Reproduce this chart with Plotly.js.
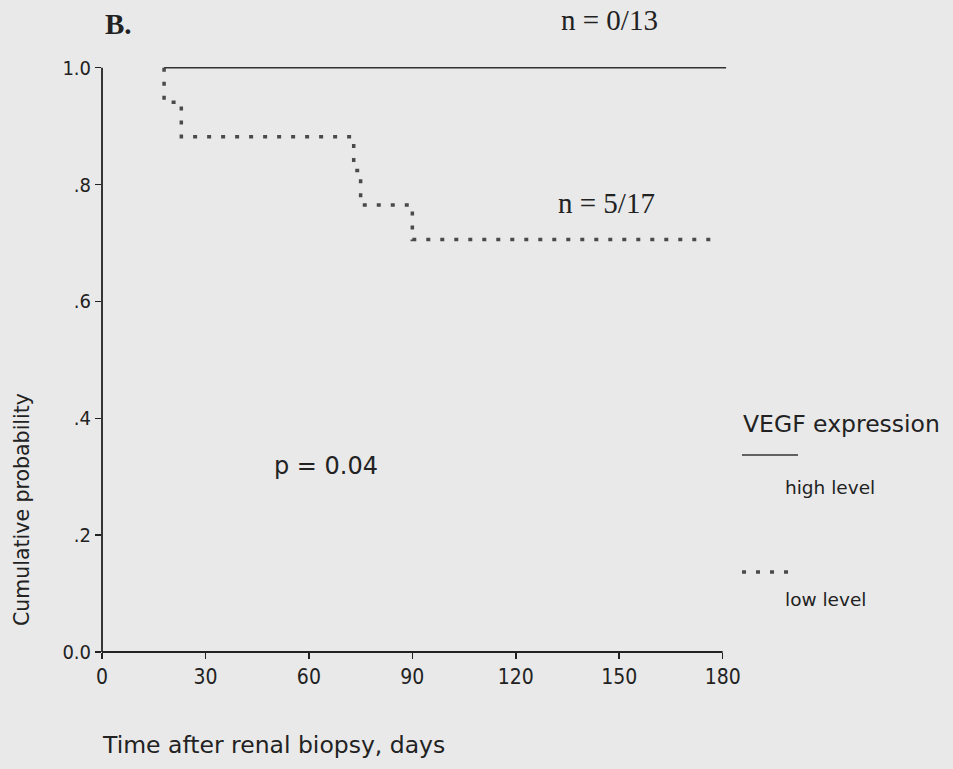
<!DOCTYPE html>
<html>
<head>
<meta charset="utf-8">
<script src="https://cdn.plot.ly/plotly-3.0.1.min.js"></script>
<style>
html,body{margin:0;padding:0;background:#e9e9e9;}
#chart{width:953px;height:769px;}
</style>
</head>
<body>
<div id="chart"></div>
<script>
// High VEGF expression group (no events)
var highDays = [18, 181];
var highSurv = [1.0, 1.0];
// Low VEGF expression group (Kaplan-Meier steps)
var lowDays = [18, 18, 23, 73, 75, 90, 178];
var lowSurv = [1.0, 0.941, 0.882, 0.824, 0.765, 0.706, 0.706];

var xTickVals = [0, 30, 60, 90, 120, 150, 180];
var xTickText = ["0", "30", "60", "90", "120", "150", "180"];
var yTickVals = [0, 0.2, 0.4, 0.6, 0.8, 1.0];
var yTickText = ["0.0", ".2", ".4", ".6", ".8", "1.0"];

var panelLabel = "B.";
var highCount = "n = 0/13";
var lowCount = "n = 5/17";
var pValue = "p = 0.04";
var legendTitle = "VEGF expression";
var legendNames = ["high level", "low level"];
var xTitle = "Time after renal biopsy, days";
var yTitle = "Cumulative probability";

var sans = "DejaVu Sans, Verdana, sans-serif";
var narrow = "Liberation Sans Narrow, DejaVu Sans Condensed, Arial Narrow, sans-serif";
var serif = "Liberation Serif, Times New Roman, serif";
var ink = "#222";

var traces = [
  {x: highDays, y: highSurv, mode: "lines", line: {color: "#333", width: 1.6, shape: "hv"}, showlegend: false, hoverinfo: "skip"},
  {x: lowDays, y: lowSurv, mode: "lines", line: {color: "#4a4a4a", width: 3.5, shape: "hv", dash: "4px,10px"}, showlegend: false, hoverinfo: "skip"}
];

function note(text, x, y, size, family, extra) {
  var a = {text: text, x: x, y: y, xref: "paper", yref: "paper", showarrow: false,
           xanchor: "center", yanchor: "middle",
           font: {family: family, size: size, color: ink}};
  for (var k in (extra || {})) a[k] = extra[k];
  return a;
}

var layout = {
  width: 953, height: 769,
  margin: {l: 102, r: 220, t: 56, b: 117, pad: 0},
  paper_bgcolor: "#e9e9e9",
  plot_bgcolor: "rgba(0,0,0,0)",
  showlegend: false,
  xaxis: {
    range: [0, 183], tickvals: xTickVals, ticktext: xTickText,
    ticks: "outside", ticklen: 6, tickwidth: 1.5, tickcolor: ink,
    showline: false, zeroline: false, showgrid: false,
    tickfont: {family: narrow, size: 21, color: ink}
  },
  yaxis: {
    range: [0, 1.02], tickvals: yTickVals, ticktext: yTickText,
    ticks: "outside", ticklen: 6, tickwidth: 1.5, tickcolor: ink,
    showline: false, zeroline: false, showgrid: false,
    tickfont: {family: narrow, size: 20, color: ink}
  },
  shapes: [
    {type: "line", xref: "paper", yref: "y", x0: 0, x1: 0, y0: 0, y1: 1.0, line: {color: ink, width: 1.8}},
    {type: "line", xref: "x", yref: "paper", x0: 0, x1: 180, y0: 0, y1: 0, line: {color: ink, width: 1.8}},
    {type: "line", xref: "paper", yref: "paper", x0: 1.0143, x1: 1.103, y0: 0.3305, y1: 0.3305, line: {color: "#333", width: 1.6}},
    {type: "line", xref: "paper", yref: "paper", x0: 1.0143, x1: 1.089, y0: 0.1342, y1: 0.1342, line: {color: "#4a4a4a", width: 3.5, dash: "4px,10px"}}
  ],
  annotations: [
    note("<b>" + panelLabel + "</b>", 0.0254, 1.0537, 29, serif),
    note(highCount, 0.805, 1.0604, 29, serif),
    {text: lowCount, x: 146.2, y: 0.768, xref: "x", yref: "y", showarrow: false, font: {family: serif, size: 29, color: ink}},
    note(pValue, 0.355, 0.3125, 24, sans),
    note(yTitle, -0.1268, 0.2399, 20.5, sans, {textangle: -90}),
    note(xTitle, -0.0032, -0.156, 23.5, sans, {xanchor: "left"}),
    note(legendTitle, 1.0127, 0.3826, 23.5, sans, {xanchor: "left"}),
    note(legendNames[0], 1.0792, 0.2768, 18.5, sans, {xanchor: "left"}),
    note(legendNames[1], 1.0792, 0.0889, 18.5, sans, {xanchor: "left"})
  ]
};

Plotly.newPlot("chart", traces, layout, {displayModeBar: false, staticPlot: true});
</script>
</body>
</html>
